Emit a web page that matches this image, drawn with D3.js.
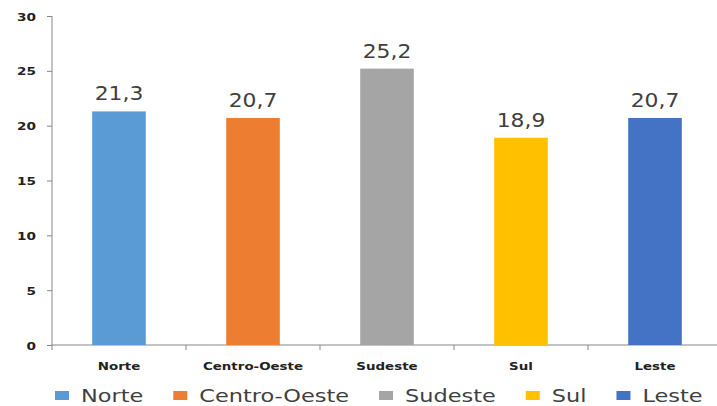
<!DOCTYPE html>
<html>
<head>
<meta charset="utf-8">
<script src="https://cdn.jsdelivr.net/npm/d3@7"></script>
<style>
  body { margin: 0; background: #fff; }
  svg text { font-family: "DejaVu Sans", sans-serif; }
</style>
</head>
<body>
<div id="chart"></div>
<script>
// data
var regioes = ["Norte", "Centro-Oeste", "Sudeste", "Sul", "Leste"];
var valores = [21.3, 20.7, 25.2, 18.9, 20.7];
var cores = ["#5B9BD5", "#ED7D31", "#A5A5A5", "#FFC000", "#4472C4"];
var yTicks = [0, 5, 10, 15, 20, 25, 30];

var width = 717, height = 406;
var margin = {top: 16, left: 52, bottom: 61};

var svg = d3.select("#chart").append("svg")
    .attr("width", width)
    .attr("height", height);

var x = d3.scaleBand()
    .domain(regioes)
    .range([margin.left, margin.left + 5 * 134])
    .paddingInner(0.6)
    .paddingOuter(0.3);

var y = d3.scaleLinear()
    .domain([0, 30])
    .range([height - margin.bottom, margin.top]);

// y axis
var yAxis = svg.append("g")
    .attr("transform", "translate(" + margin.left + ",0)")
    .call(d3.axisLeft(y).tickValues(yTicks).tickSize(5).tickPadding(0).tickFormat(d3.format("d")));
yAxis.select(".domain").attr("stroke", "#868686").attr("d", "M0," + y(30) + "V" + y(0));
yAxis.selectAll(".tick line").attr("stroke", "#868686");
yAxis.selectAll(".tick text")
    .attr("x", null).attr("dy", null)
    .attr("font-size", 11).attr("font-weight", "bold").attr("fill", "#222")
    .attr("transform", "translate(-16,4) scale(1.24,1)");

// x axis
var bandStep = x.step();
var xAxis = svg.append("g")
    .attr("transform", "translate(0," + y(0) + ")");
xAxis.append("path")
    .attr("d", "M" + margin.left + ",0H" + width)
    .attr("stroke", "#868686").attr("fill", "none");
xAxis.selectAll(".xt")
    .data(d3.range(regioes.length + 1))
    .enter().append("line")
    .attr("x1", function (i) { return x(regioes[0]) - x.bandwidth() * 0.75 + i * bandStep; })
    .attr("x2", function (i) { return x(regioes[0]) - x.bandwidth() * 0.75 + i * bandStep; })
    .attr("y1", 0).attr("y2", 5)
    .attr("stroke", "#868686");
xAxis.selectAll(".xl")
    .data(regioes)
    .enter().append("text")
    .attr("text-anchor", "middle")
    .attr("font-size", 11).attr("font-weight", "bold").attr("fill", "#222")
    .attr("transform", function (d) {
        return "translate(" + (x(d) + x.bandwidth() / 2) + ",25) scale(1.22,1)";
    })
    .text(function (d) { return d; });

// bars
svg.selectAll(".bar")
    .data(valores)
    .enter().append("rect")
    .attr("class", "bar")
    .attr("x", function (d, i) { return x(regioes[i]); })
    .attr("y", function (d) { return y(d); })
    .attr("width", x.bandwidth())
    .attr("height", function (d) { return y(0) - y(d); })
    .attr("fill", function (d, i) { return cores[i]; });

// value labels
svg.selectAll(".val")
    .data(valores)
    .enter().append("text")
    .attr("text-anchor", "middle")
    .attr("font-size", 19).attr("fill", "#404040")
    .attr("transform", function (d, i) {
        return "translate(" + (x(regioes[i]) + x.bandwidth() / 2) + "," + (y(d) - 11) + ") scale(1.15,1)";
    })
    .text(function (d) { return d3.format(".1f")(d).replace(".", ","); });

// legend
var legend = svg.append("g");
var lx = 55;
regioes.forEach(function (r, i) {
    legend.append("rect")
        .attr("x", lx).attr("y", 391)
        .attr("width", 14).attr("height", 9)
        .attr("fill", cores[i]);
    var t = legend.append("text")
        .attr("font-size", 17).attr("fill", "#404040")
        .attr("transform", "translate(" + (lx + 26) + ",402) scale(1.32,1)")
        .text(r);
    lx += 26 + t.node().getComputedTextLength() * 1.32 + 30;
});
</script>
</body>
</html>
